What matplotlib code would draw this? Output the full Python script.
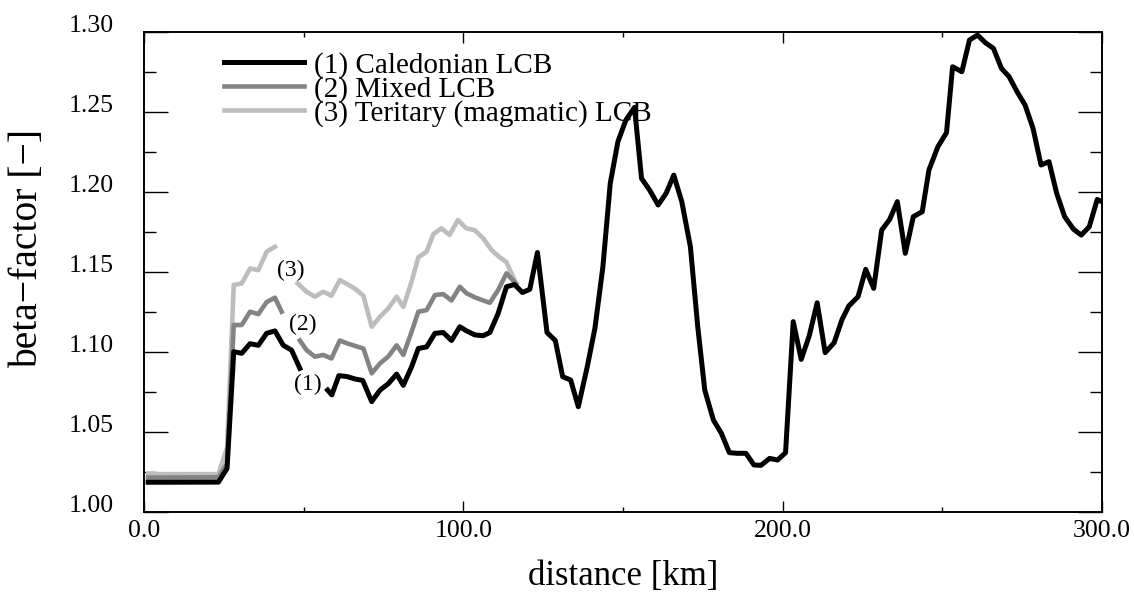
import matplotlib
matplotlib.use("Agg")
import matplotlib.pyplot as plt
import numpy as np

plt.rcParams["font.family"] = ["Liberation Serif", "DejaVu Serif"]

# (1) Caledonian LCB -- full profile, gap where the "(1)" tag sits
dist_1 = [1.3, 23.3, 26.0, 28.1, 30.6, 33.2, 35.8, 38.4, 41.0, 43.6, 46.2, 48.8, np.nan,
          57.5, 58.8, 61.0, 63.5, 66.0, 68.5, 71.3, 73.9, 76.5, 79.1, 81.2, 83.8, 85.9,
          88.5, 91.1, 93.7, 96.3, 98.9, 101.0, 103.6, 106.2, 108.3, 110.9, 113.5, 116.0,
          118.5, 120.8, 123.2, 126.2, 128.8, 131.1, 133.6, 136.0, 138.8, 141.2, 143.7,
          146.0, 148.4, 150.9, 153.6, 155.8, 158.3, 161.0, 163.5, 165.9, 168.4, 171.1,
          173.4, 175.6, 178.3, 180.8, 183.3, 185.7, 188.5, 191.0, 193.2, 195.9, 198.4,
          200.9, 203.3, 205.8, 208.3, 210.8, 213.3, 216.1, 218.6, 220.7, 223.6, 226.0,
          228.5, 231.0, 233.5, 235.9, 238.4, 240.9, 243.7, 245.8, 248.6, 251.3, 253.2,
          256.1, 258.5, 261.0, 263.5, 266.0, 268.5, 270.9, 273.4, 275.9, 278.4, 280.9,
          283.4, 285.8, 288.3, 291.1, 293.5, 296.0, 298.5, 299.7]
beta_1 = [1.0184, 1.0185, 1.027, 1.100, 1.099, 1.105, 1.104, 1.1115, 1.113, 1.104, 1.101,
          1.0896, np.nan,
          1.076, 1.073, 1.085, 1.0845, 1.083, 1.082, 1.0688, 1.076, 1.080, 1.086, 1.079,
          1.0906, 1.102, 1.103, 1.1115, 1.112, 1.107, 1.1156, 1.113, 1.1105, 1.110, 1.112,
          1.124, 1.1406, 1.142, 1.137, 1.139, 1.162, 1.112, 1.107, 1.0844, 1.0823, 1.0656,
          1.0906, 1.1146, 1.1531, 1.2052, 1.2313, 1.2448, 1.2527, 1.2083, 1.2011, 1.1917,
          1.199, 1.2104, 1.1938, 1.1656, 1.1156, 1.076, 1.0573, 1.049, 1.0369, 1.0365,
          1.0365, 1.0292, 1.029, 1.0333, 1.0323, 1.0369, 1.1188, 1.0952, 1.1098, 1.1306,
          1.0994, 1.1056, 1.1202, 1.1286, 1.1344, 1.1515, 1.1396, 1.176, 1.1827, 1.1938,
          1.1615, 1.1844, 1.1875, 1.2136, 1.2281, 1.2369, 1.2781, 1.275, 1.2948, 1.2979,
          1.2931, 1.2896, 1.2771, 1.2719, 1.2625, 1.2542, 1.2396, 1.2167, 1.2188, 1.199,
          1.1844, 1.1765, 1.1729, 1.1781, 1.1952, 1.194]

# (2) Mixed LCB
dist_2 = [1.3, 23.3, 26.0, 28.1, 30.6, 33.2, 35.8, 38.4, 41.0, 43.1, np.nan,
          48.8, 50.9, 53.5, 56.1, 58.7, 61.3, 63.9, 66.3, 68.7, 71.3, 73.9, 76.5, 79.1,
          81.2, 83.8, 85.9, 88.5, 91.1, 93.7, 96.3, 98.9, 101.0, 103.6, 106.2, 108.3,
          110.9, 113.5, 116.5]
beta_2 = [1.0213, 1.0215, 1.030, 1.1167, 1.1167, 1.125, 1.1235, 1.131, 1.1338, 1.125, np.nan,
          1.107, 1.101, 1.0969, 1.098, 1.0958, 1.107, 1.105, 1.1035, 1.102, 1.0865, 1.0927,
          1.097, 1.104, 1.098, 1.1125, 1.125, 1.126, 1.1354, 1.136, 1.132, 1.1406, 1.1365,
          1.134, 1.132, 1.1306, 1.1386, 1.149, 1.1425]

# (3) Teritary (magmatic) LCB
dist_3 = [1.3, 23.3, 26.0, 28.1, 30.6, 33.2, 35.8, 38.4, 41.0, np.nan,
          48.1, 50.9, 53.5, 56.1, 58.7, 61.3, 63.9, 66.3, 68.7, 71.3, 73.9, 76.5, 79.1,
          81.2, 83.8, 85.9, 88.5, 90.6, 93.1, 95.7, 98.3, 100.9, 103.5, 106.2, 108.8,
          111.4, 113.5, 116.5]
beta_3 = [1.0235, 1.0235, 1.040, 1.1417, 1.1427, 1.152, 1.151, 1.1625, 1.1656, np.nan,
          1.1427, 1.1375, 1.1344, 1.1375, 1.135, 1.1448, 1.142, 1.139, 1.135, 1.1156,
          1.1219, 1.1271, 1.1344, 1.128, 1.1438, 1.159, 1.1625, 1.1735, 1.1771, 1.173,
          1.1823, 1.1771, 1.176, 1.1709, 1.1636, 1.159, 1.156, 1.1427]

series_labels = ["(1) Caledonian LCB", "(2) Mixed LCB", "(3) Teritary (magmatic) LCB"]
curve_tags = ["(1)", "(2)", "(3)"]
tag_dist = [51.4, 49.8, 46.0]
tag_beta = [1.0798, 1.1173, 1.151]

x_ticks = [0, 100, 200, 300]
x_tick_labels = ["0.0", "100.0", "200.0", "300.0"]
x_minor = [50, 150, 250]
y_ticks = [1.00, 1.05, 1.10, 1.15, 1.20, 1.25, 1.30]
y_tick_labels = ["1.00", "1.05", "1.10", "1.15", "1.20", "1.25", "1.30"]
y_minor = [1.025, 1.075, 1.125, 1.175, 1.225, 1.275]

COLORS = ["#000000", "#838383", "#bdbdbd"]

fig = plt.figure(figsize=(11.34, 5.93), dpi=100)
ax = fig.add_axes([0.127, 0.1371, 0.8448, 0.8094])

h3, = ax.plot(dist_3, beta_3, color=COLORS[2], lw=3.3, solid_joinstyle="round")
h2, = ax.plot(dist_2, beta_2, color=COLORS[1], lw=3.3, solid_joinstyle="round")
h1, = ax.plot(dist_1, beta_1, color=COLORS[0], lw=3.6, solid_joinstyle="round")

for tag, tx, ty in zip(curve_tags, tag_dist, tag_beta):
    ax.text(tx, ty, tag, ha="center", va="center", fontsize=17)

ax.set_xlim(0, 300)
ax.set_ylim(1.0, 1.3)
ax.set_xticks(x_ticks, x_tick_labels)
ax.set_xticks(x_minor, minor=True)
ax.set_yticks(y_ticks, y_tick_labels)
ax.set_yticks(y_minor, minor=True)

ax.tick_params(axis="both", which="both", direction="in", top=True, right=True, width=1)
ax.tick_params(axis="y", which="major", length=17, pad=22, labelsize=18.5)
ax.tick_params(axis="y", which="minor", length=8.6)
ax.tick_params(axis="x", which="major", length=8, pad=6, labelsize=18.5)
ax.tick_params(axis="x", which="minor", length=3.6)
for lab in ax.get_yticklabels():
    lab.set_verticalalignment("baseline")
for sp in ax.spines.values():
    sp.set_linewidth(1.4)

ax.set_xlabel("distance [km]", fontsize=25)
ax.xaxis.set_label_coords(0.5, -0.1)
ax.set_ylabel("beta\u2212factor [\u2212]", fontsize=28.5)
ax.yaxis.set_label_coords(-0.102, 0.549)

ax.legend([h1, h2, h3], series_labels, loc="upper left", bbox_to_anchor=(0.0835, 0.958),
          frameon=False, fontsize=21, handlelength=2.75, handletextpad=0.34,
          labelspacing=-0.1, borderpad=0, borderaxespad=0)

fig.savefig("out.png", dpi=100)
plt.close(fig)
